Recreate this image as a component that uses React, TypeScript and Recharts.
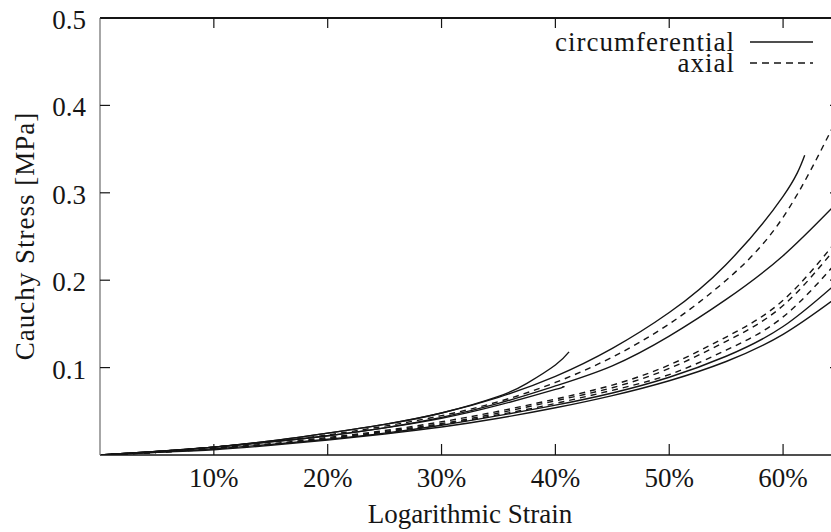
import { LineChart, Line, XAxis, YAxis, Legend } from 'recharts'

// strain in %, stress in MPa
const strainGrid = [0, 5, 10, 15, 20, 25, 30, 35, 40, 45, 50, 55, 60, 65]
const xTicks = [10, 20, 30, 40, 50, 60]
const yTicks = [0.1, 0.2, 0.3, 0.4, 0.5]

// circumferential specimens (solid)
const circ1Strain = [0, 5, 10, 15, 20, 25, 30, 35, 37.5, 40, 41.2]
const circ1Stress = [0, 0.004, 0.009, 0.016, 0.025, 0.035, 0.048, 0.067, 0.082, 0.103, 0.118]
const circ2Strain = [0, 5, 10, 15, 20, 25, 30, 35, 40, 45, 50, 55, 60, 61.9]
const circ2Stress = [0, 0.004, 0.009, 0.016, 0.025, 0.035, 0.048, 0.066, 0.09, 0.122, 0.163, 0.218, 0.296, 0.343]
const circ3Stress = [0, 0.004, 0.009, 0.015, 0.022, 0.031, 0.043, 0.059, 0.079, 0.102, 0.136, 0.178, 0.228, 0.292]
const circ4Stress = [0, 0.003, 0.007, 0.012, 0.018, 0.025, 0.034, 0.045, 0.057, 0.071, 0.089, 0.113, 0.147, 0.2]
const circ5Stress = [0, 0.003, 0.006, 0.011, 0.017, 0.024, 0.032, 0.042, 0.054, 0.068, 0.085, 0.107, 0.138, 0.183]
const circ6Strain = [0, 5, 10, 15, 20, 25, 30, 35, 40, 40.6]
const circ6Stress = [0, 0.004, 0.009, 0.015, 0.022, 0.031, 0.042, 0.057, 0.075, 0.078]

// axial specimens (dashed)
const axial1Stress = [0, 0.004, 0.009, 0.015, 0.023, 0.033, 0.045, 0.061, 0.083, 0.112, 0.15, 0.2, 0.272, 0.392]
const axial2Stress = [0, 0.003, 0.008, 0.013, 0.02, 0.028, 0.038, 0.05, 0.064, 0.08, 0.103, 0.135, 0.177, 0.25]
const axial3Stress = [0, 0.003, 0.007, 0.012, 0.019, 0.027, 0.036, 0.048, 0.062, 0.077, 0.099, 0.13, 0.171, 0.243]
const axial4Stress = [0, 0.003, 0.007, 0.012, 0.018, 0.026, 0.035, 0.046, 0.059, 0.074, 0.092, 0.12, 0.158, 0.225]

const INK = '#151515'
const FONT = "'Liberation Serif', 'DejaVu Serif', serif"
const FS = 27

type Curve = { id: string; kind: 'circ' | 'axial'; strain: number[]; stress: number[] }

const curves: Curve[] = [
  { id: 'c1', kind: 'circ', strain: circ1Strain, stress: circ1Stress },
  { id: 'c2', kind: 'circ', strain: circ2Strain, stress: circ2Stress },
  { id: 'c3', kind: 'circ', strain: strainGrid, stress: circ3Stress },
  { id: 'c4', kind: 'circ', strain: strainGrid, stress: circ4Stress },
  { id: 'c5', kind: 'circ', strain: strainGrid, stress: circ5Stress },
  { id: 'c6', kind: 'circ', strain: circ6Strain, stress: circ6Stress },
  { id: 'a1', kind: 'axial', strain: strainGrid, stress: axial1Stress },
  { id: 'a2', kind: 'axial', strain: strainGrid, stress: axial2Stress },
  { id: 'a3', kind: 'axial', strain: strainGrid, stress: axial3Stress },
  { id: 'a4', kind: 'axial', strain: strainGrid, stress: axial4Stress },
]

const names = { circ: 'circumferential', axial: 'axial' }
const DASH = '6 5'

const toPoints = (c: Curve) => c.strain.map((x, i) => ({ x, y: c.stress[i] }))

function BottomTick({ x, y, payload }: any) {
  return (
    <g>
      <line x1={x} x2={x} y1={y} y2={y - 11} stroke={INK} strokeWidth={1.2} />
      <text x={x} y={y + 32} textAnchor="middle" fontFamily={FONT} fontSize={FS} fill={INK}>{payload.value}%</text>
    </g>
  )
}

function TopTick({ x, y }: any) {
  return <line x1={x} x2={x} y1={y} y2={y + 10} stroke={INK} strokeWidth={1.2} />
}

function LeftTick({ x, y, payload }: any) {
  return (
    <g>
      <line x1={x} x2={x + 10} y1={y} y2={y} stroke={INK} strokeWidth={1.2} />
      <text x={x - 14} y={y + 11} textAnchor="end" fontFamily={FONT} fontSize={FS} fill={INK}>{payload.value}</text>
    </g>
  )
}

function RightTick({ x, y }: any) {
  return <line x1={x} x2={x - 10} y1={y} y2={y} stroke={INK} strokeWidth={1.2} />
}

function XLabel() {
  return (
    <text x={470} y={523} textAnchor="middle" fontFamily={FONT} fontSize={FS} fill={INK}>
      Logarithmic Strain
    </text>
  )
}

function YLabel() {
  return (
    <text x={34} y={236} textAnchor="middle" transform="rotate(-90, 34, 236)"
      fontFamily={FONT} fontSize={FS} fill={INK} letterSpacing={1}>
      Cauchy Stress [MPa]
    </text>
  )
}

function LegendBox() {
  const rows = [names.circ, names.axial]
  return (
    <div style={{ fontFamily: FONT, fontSize: FS, color: INK, lineHeight: '21px' }}>
      {rows.map((label) => (
        <div key={label} style={{ display: 'flex', alignItems: 'center' }}>
          <span style={{ width: 235, textAlign: 'right', letterSpacing: 1 }}>{label}</span>
          <svg width={78} height={21}>
            <line x1={15} x2={78} y1={10} y2={10} stroke={INK} strokeWidth={1.5}
              strokeDasharray={label === names.axial ? '7 5' : undefined} />
          </svg>
        </div>
      ))}
    </div>
  )
}

export default function App() {
  const axisLine = { stroke: INK, strokeWidth: 1.5 }
  return (
    <div style={{ position: 'absolute', left: 0, top: 0, width: 831, height: 532, overflow: 'hidden', background: '#fff' }}>
      <LineChart width={846} height={532} margin={{ top: 17, right: 5, bottom: 76, left: 99 }}>
        <XAxis xAxisId="bottom" orientation="bottom" type="number" dataKey="x" domain={[0, 65]} ticks={xTicks}
          allowDataOverflow height={1} tickSize={0} tickMargin={0} tickLine={false} axisLine={axisLine}
          tick={BottomTick} label={<XLabel />} />
        <XAxis xAxisId="top" orientation="top" type="number" dataKey="x" domain={[0, 65]} ticks={xTicks}
          allowDataOverflow height={1} tickSize={0} tickMargin={0} tickLine={false}
          axisLine={{ stroke: INK, strokeWidth: 2 }} tick={TopTick} />
        <YAxis yAxisId="left" orientation="left" type="number" domain={[0, 0.5]} ticks={yTicks}
          allowDataOverflow width={1} tickSize={0} tickMargin={0} tickLine={false}
          axisLine={{ stroke: '#777', strokeWidth: 1.3 }} tick={LeftTick} label={<YLabel />} />
        <YAxis yAxisId="right" orientation="right" type="number" domain={[0, 0.5]} ticks={yTicks}
          allowDataOverflow width={1} tickSize={0} tickMargin={0} tickLine={false} axisLine={axisLine}
          tick={RightTick} />
        <Legend layout="vertical" align="center" verticalAlign="middle" content={LegendBox}
          wrapperStyle={{ left: 500, top: 32, width: 330 }} />
        {curves.map((c) => (
          <Line key={c.id} xAxisId="bottom" yAxisId="left" data={toPoints(c)} dataKey="y"
            name={names[c.kind]} type="natural"
            stroke={INK} strokeWidth={1.4} strokeDasharray={c.kind === 'axial' ? DASH : undefined}
            dot={false} activeDot={false} isAnimationActive={false} />
        ))}
      </LineChart>
    </div>
  )
}
